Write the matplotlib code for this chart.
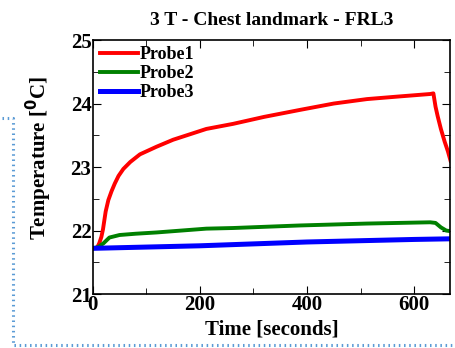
import matplotlib
matplotlib.use("Agg")
import matplotlib.pyplot as plt
from matplotlib.lines import Line2D
from matplotlib.ticker import MultipleLocator

plt.rcParams['font.family'] = ['Liberation Serif', 'DejaVu Serif']
plt.rcParams['font.weight'] = 'bold'

# probe traces (time in s, temperature in degC)
t_probe1 = [0, 8, 12, 16, 19, 24, 29, 35, 41, 48, 57, 70, 88, 119, 150, 212, 262, 320,
            387, 450, 512, 570, 630, 636, 640, 644, 650, 657, 663, 668]
T_probe1 = [21.72, 21.73, 21.8, 21.9, 22.02, 22.3, 22.48, 22.62, 22.74, 22.86, 22.97,
            23.08, 23.2, 23.32, 23.43, 23.6, 23.68, 23.79, 23.9, 24.0, 24.07, 24.11,
            24.15, 24.16, 23.95, 23.8, 23.6, 23.4, 23.25, 23.1]

t_probe2 = [0, 10, 20, 31, 50, 80, 119, 212, 262, 386, 511, 630, 640, 650, 660, 668]
T_probe2 = [21.72, 21.74, 21.8, 21.89, 21.93, 21.95, 21.97, 22.03, 22.04, 22.08, 22.11,
            22.13, 22.12, 22.05, 22.0, 21.99]

t_probe3 = [0, 100, 200, 300, 400, 500, 600, 668]
T_probe3 = [21.72, 21.74, 21.76, 21.79, 21.82, 21.84, 21.86, 21.87]

fig = plt.figure(figsize=(4.55, 3.48), dpi=100)
ax = fig.add_axes([0.204, 0.155, 0.785, 0.730])

ax.plot(t_probe1, T_probe1, color='red', lw=2.8, label='Probe1')
ax.plot(t_probe2, T_probe2, color='green', lw=2.8, label='Probe2')
ax.plot(t_probe3, T_probe3, color='blue', lw=3.6, label='Probe3')

ax.set_xlim(0, 667)
ax.set_ylim(21, 25)
ax.xaxis.set_major_locator(MultipleLocator(200))
ax.xaxis.set_minor_locator(MultipleLocator(100))
ax.yaxis.set_major_locator(MultipleLocator(1))
ax.yaxis.set_minor_locator(MultipleLocator(0.5))
ax.tick_params(which='both', direction='in', top=True, right=True, labelsize=15, pad=1)
ax.tick_params(which='major', length=6)
ax.tick_params(which='minor', length=4)
for s in ax.spines.values():
    s.set_linewidth(1.2)

ax.set_title('3 T - Chest landmark - FRL3', fontsize=14, fontweight='bold', pad=11)
ax.set_xlabel('Time [seconds]', fontsize=15, fontweight='bold', labelpad=3)
ax.set_ylabel('Temperature [$\\mathbf{^{0}}$C]', fontsize=15, fontweight='bold')
ax.yaxis.set_label_coords(-0.11, 0.537)

ax.legend(loc='upper left', bbox_to_anchor=(0.02, 0.976), frameon=False, fontsize=13,
          handlelength=2.1, handletextpad=0.1, labelspacing=0.12, borderaxespad=0,
          borderpad=0)

# dotted frame fragment behind the chart
fig.add_artist(Line2D([2 / 455, 13 / 455, 13 / 455, 1.0],
                      [1 - 118 / 348, 1 - 118 / 348, 1 - 345 / 348, 1 - 345 / 348],
                      transform=fig.transFigure, color='#5b9bd5', lw=2.2, ls=(0, (0.5, 1.2))))

fig.savefig('out.png', dpi=100)
